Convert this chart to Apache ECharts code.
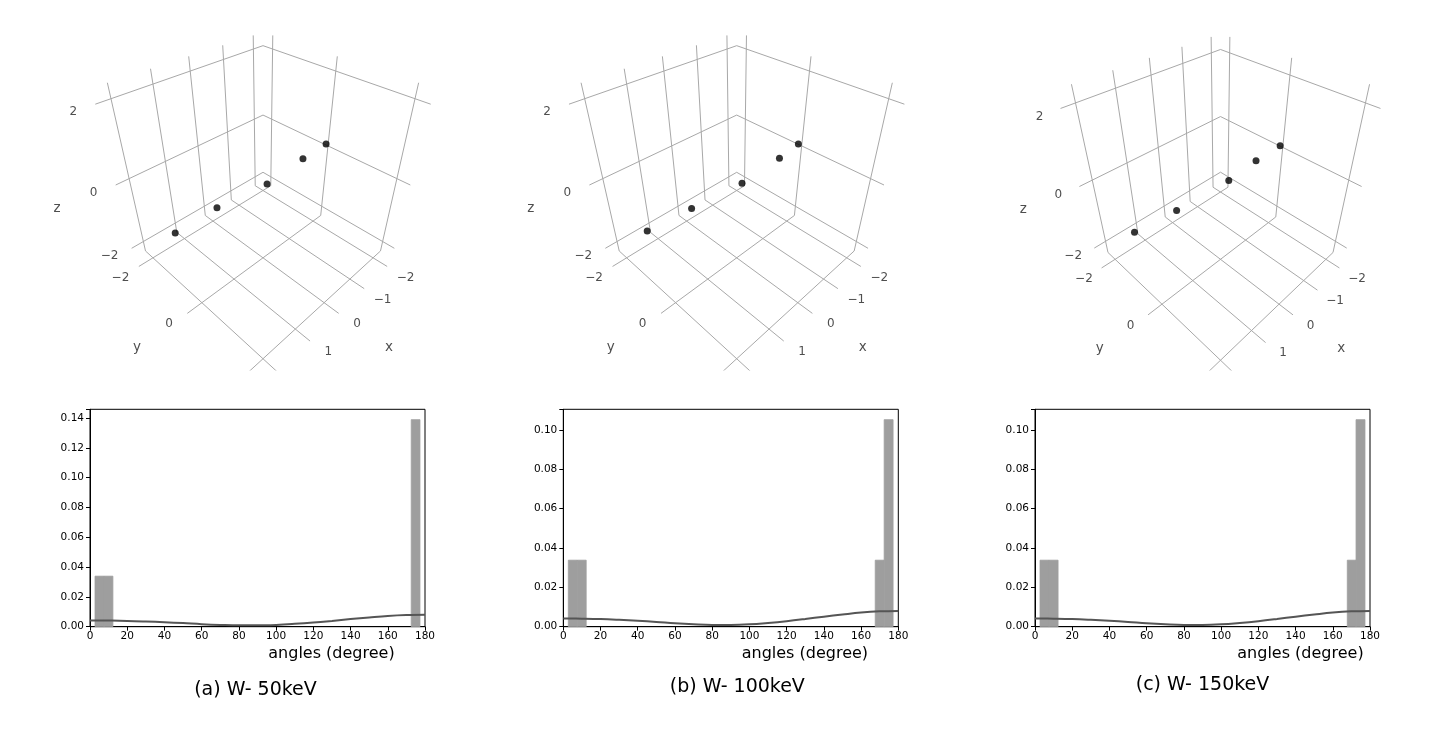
<!DOCTYPE html>
<html lang="en">
<head>
<meta charset="UTF-8">
<title>W- keV: atom positions and bond angles</title>
<style>
  html, body { margin: 0; padding: 0; background: #fff; }
  #main { width: 1436px; height: 739px; }
</style>
</head>
<body>
<div id="main"></div>
<script src="https://cdn.jsdelivr.net/npm/echarts@6/dist/echarts.min.js"></script>
<script>
// ---------- data ----------
var panelTitles = ['(a) W- 50keV', '(b) W- 100keV', '(c) W- 150keV'];

// atom positions (x, y, z)
var atomsX50 = [2.33, 1.25, -0.09, -1.44, -2.38];
var atomsY50 = [-0.11, -0.12, 0.04, -0.06, -0.09];
var atomsZ50 = [0, 0, 0, 0, 0];
var atomsX100 = [2.32, 1.25, -0.13, -1.51, -2.36];
var atomsY100 = [-0.18, -0.09, 0.04, -0.03, -0.12];
var atomsZ100 = [0, 0, 0, 0, 0];
var atomsX150 = [2.32, 1.27, -0.30, -1.38, -2.36];
var atomsY150 = [-0.19, -0.09, -0.02, -0.10, -0.10];
var atomsZ150 = [0, 0, 0, 0, 0];

var axisLimit3d = [-2.25, 2.25];
var ticks3dX = [-2, -1, 0, 1, 2];
var ticks3dY = [-2, 0, 2];
var ticks3dZ = [-2, 0, 2];

// angle histograms (bin start, bin end, density)
var binStart50 = [2.7, 7.5, 172.6];
var binEnd50 = [7.5, 12.3, 177.3];
var binDensity50 = [0.0339, 0.0339, 0.1389];
var binStart100 = [2.7, 7.5, 167.6, 172.4];
var binEnd100 = [7.5, 12.3, 172.4, 177.2];
var binDensity100 = [0.0338, 0.0338, 0.0338, 0.1052];
var binStart150 = [2.7, 7.5, 167.8, 172.5];
var binEnd150 = [7.5, 12.4, 172.5, 177.3];
var binDensity150 = [0.0338, 0.0338, 0.0338, 0.1052];

// smooth density curve drawn over every histogram
var curveAngle = [0, 10, 20, 30, 40, 50, 60, 70, 80, 90, 100, 110, 120, 130, 140, 150, 160, 170, 180];
var curveDensity = [0.0042, 0.0041, 0.0039, 0.0035, 0.0030, 0.0024, 0.0017, 0.0012, 0.0009, 0.0009,
                    0.0012, 0.0019, 0.0028, 0.0039, 0.0051, 0.0062, 0.0072, 0.0078, 0.0080];

// ---------- layout / styling ----------
var FONT = 'DejaVu Sans';
var VIEW = { elev: 37, azim: 45, dist: 2.2, scale: 440 };
var panels3d = [{ cx: 263, cy: 185 }, { cx: 736.7, cy: 185 }, { cx: 1230, cy: 186.5 }];
var hists = [
  { left: 90, right: 425 },
  { left: 563.3, right: 898.3 },
  { left: 1035, right: 1370 }
];
var histTop = 409.3, histBottom = 626.7;
var xlabelPos = [268.3, 741.7, 1237.3];
var titlePos = [[255.5, 690], [737.3, 686.7], [1202.5, 685]];

var atoms = [
  [atomsX50, atomsY50, atomsZ50],
  [atomsX100, atomsY100, atomsZ100],
  [atomsX150, atomsY150, atomsZ150]
];
var bins = [
  [binStart50, binEnd50, binDensity50],
  [binStart100, binEnd100, binDensity100],
  [binStart150, binEnd150, binDensity150]
];

// ---------- simple perspective camera (matplotlib-like) ----------
function dot(a, b) { return a[0] * b[0] + a[1] * b[1] + a[2] * b[2]; }
var cam = (function () {
  var e = VIEW.elev * Math.PI / 180, a = VIEW.azim * Math.PI / 180;
  var n = [Math.cos(e) * Math.cos(a), Math.cos(e) * Math.sin(a), Math.sin(e)];
  var u = [-Math.sin(a), Math.cos(a), 0];
  var v = [n[1] * u[2] - n[2] * u[1], n[2] * u[0] - n[0] * u[2], n[0] * u[1] - n[1] * u[0]];
  return { n: n, u: u, v: v };
})();
function project(p, lims) {
  var q = p.map(function (val, i) {
    var lo = lims[i][0], hi = lims[i][1];
    return (val - (lo + hi) / 2) / (hi - lo);
  });
  var den = VIEW.dist - dot(cam.n, q);
  return [dot(cam.u, q) / den, dot(cam.v, q) / den];
}

var grids = [], xAxes = [], yAxes = [], series = [], graphics = [];
var S = VIEW.scale;

panels3d.forEach(function (pn, i) {
  var top = 25, bottom = 370, half = 225;
  grids.push({ left: pn.cx - half, top: top, width: 2 * half, height: bottom - top });
  xAxes.push({ gridIndex: i, type: 'value', show: false, min: -half / S, max: half / S });
  yAxes.push({ gridIndex: i, type: 'value', show: false, min: (pn.cy - bottom) / S, max: (pn.cy - top) / S });

  var lims = [axisLimit3d, axisLimit3d, i === 2 ? [-2.32, 2.32] : axisLimit3d];
  var pad = lims.map(function (l) { return (l[1] - l[0]) / 48; });
  var lo = lims.map(function (l, k) { return l[0] - pad[k]; });
  var hi = lims.map(function (l, k) { return l[1] + pad[k]; });
  var tk = lims.map(function (l) { return 0.2 * (l[1] - l[0]) / 12; });

  function gridLine(pts) {
    series.push({
      type: 'line', xAxisIndex: i, yAxisIndex: i, silent: true, animation: false,
      symbol: 'none', z: 1,
      lineStyle: { color: '#a8a8a8', width: 1 },
      data: pts.map(function (p) { return project(p, lims); })
    });
  }
  ticks3dX.forEach(function (t) {
    gridLine([[t, hi[1] + tk[1], lo[2]], [t, lo[1], lo[2]], [t, lo[1], hi[2]]]);
  });
  ticks3dY.forEach(function (t) {
    gridLine([[hi[0] + tk[0], t, lo[2]], [lo[0], t, lo[2]], [lo[0], t, hi[2]]]);
  });
  ticks3dZ.forEach(function (t) {
    gridLine([[hi[0], lo[1], t], [lo[0], lo[1], t], [lo[0], hi[1], t]]);
  });

  // tick labels and axis names, placed at projected edge points plus a pixel offset
  var labels = [];
  function addLabel(p, dx, dy, text, size) {
    var s = project(p, lims);
    labels.push({ value: [s[0] + dx / S, s[1] - dy / S], name: text, size: size });
  }
  function fmt(t) { return t < 0 ? '\u2212' + Math.abs(t) : String(t); }
  ticks3dX.forEach(function (t) { addLabel([t, hi[1], lo[2]], 21, 12.7, fmt(t), 12); });
  ticks3dY.forEach(function (t) { addLabel([hi[0], t, lo[2]], -21, 12.7, fmt(t), 12); });
  ticks3dZ.forEach(function (t) { addLabel([hi[0], lo[1], t], -22, 8, fmt(t), 12); });
  var mid = lims.map(function (l) { return (l[0] + l[1]) / 2; });
  addLabel([mid[0], hi[1], lo[2]], 53, 35.6, 'x', 13.5);
  addLabel([hi[0], mid[1], lo[2]], -53, 35.6, 'y', 13.5);
  addLabel([hi[0], lo[1], mid[2]], -58.7, 23, 'z', 13.5);

  series.push({
    type: 'scatter', xAxisIndex: i, yAxisIndex: i, silent: true, animation: false,
    symbolSize: 1, itemStyle: { color: 'rgba(0,0,0,0)' }, z: 2,
    data: labels.map(function (l) {
      return {
        value: l.value, name: l.name,
        label: { show: true, position: 'inside', formatter: '{b}', color: '#222', fontFamily: FONT, fontSize: l.size }
      };
    })
  });

  var A = atoms[i];
  series.push({
    type: 'scatter', xAxisIndex: i, yAxisIndex: i, silent: true, animation: false,
    symbolSize: 7, itemStyle: { color: '#000' }, z: 3,
    data: A[0].map(function (x, k) { return project([x, A[1][k], A[2][k]], lims); })
  });
});

hists.forEach(function (h, j) {
  var gi = j + 3;
  var B = bins[j];
  var ymax = Math.max.apply(null, B[2]) * 1.05;
  grids.push({
    left: h.left, top: histTop, width: h.right - h.left, height: histBottom - histTop,
    show: true, borderColor: '#000', borderWidth: 1
  });
  xAxes.push({
    gridIndex: gi, type: 'value', min: 0, max: 180, interval: 20,
    axisLine: { lineStyle: { color: '#000', width: 1 } },
    axisTick: { show: true, length: 4, lineStyle: { color: '#000' } },
    axisLabel: { color: '#000', fontSize: 10.5, fontFamily: FONT, margin: 4 },
    splitLine: { show: false }
  });
  yAxes.push({
    gridIndex: gi, type: 'value', min: 0, max: ymax, interval: 0.02,
    axisLine: { show: true, lineStyle: { color: '#000', width: 1 } },
    axisTick: { show: true, length: 4, lineStyle: { color: '#000' } },
    axisLabel: {
      color: '#000', fontSize: 10.5, fontFamily: FONT, margin: 6,
      formatter: function (v) {
        return Math.abs(v / 0.02 - Math.round(v / 0.02)) < 1e-6 ? v.toFixed(2) : '';
      }
    },
    splitLine: { show: false }
  });
  series.push({
    type: 'custom', xAxisIndex: gi, yAxisIndex: gi, silent: true, animation: false,
    data: B[0].map(function (s, k) { return [s, B[1][k], B[2][k]]; }),
    encode: { x: [0, 1], y: 2 },
    renderItem: function (params, api) {
      var p0 = api.coord([api.value(0), api.value(2)]);
      var p1 = api.coord([api.value(1), 0]);
      return {
        type: 'rect',
        shape: { x: p0[0], y: p0[1], width: p1[0] - p0[0], height: p1[1] - p0[1] },
        style: { fill: '#9e9e9e', stroke: '#9e9e9e', lineWidth: 0.8 }
      };
    }
  });
  series.push({
    type: 'line', xAxisIndex: gi, yAxisIndex: gi, silent: true, animation: false,
    symbol: 'none', smooth: 0.4, z: 3,
    lineStyle: { color: '#555', width: 2 },
    data: curveAngle.map(function (a, k) { return [a, curveDensity[k]]; })
  });

  graphics.push({
    type: 'text', x: xlabelPos[j], y: 654.3,
    style: { text: 'angles (degree)', fill: '#000', font: '16px "DejaVu Sans"', align: 'left', verticalAlign: 'middle' }
  });
  graphics.push({
    type: 'text', x: titlePos[j][0], y: titlePos[j][1],
    style: { text: panelTitles[j], fill: '#000', font: '19px "DejaVu Sans"', align: 'center', verticalAlign: 'middle' }
  });
});

var chart = echarts.init(document.getElementById('main'));
chart.setOption({
  animation: false,
  backgroundColor: '#fff',
  grid: grids,
  xAxis: xAxes,
  yAxis: yAxes,
  series: series,
  graphic: graphics
});
</script>
</body>
</html>
